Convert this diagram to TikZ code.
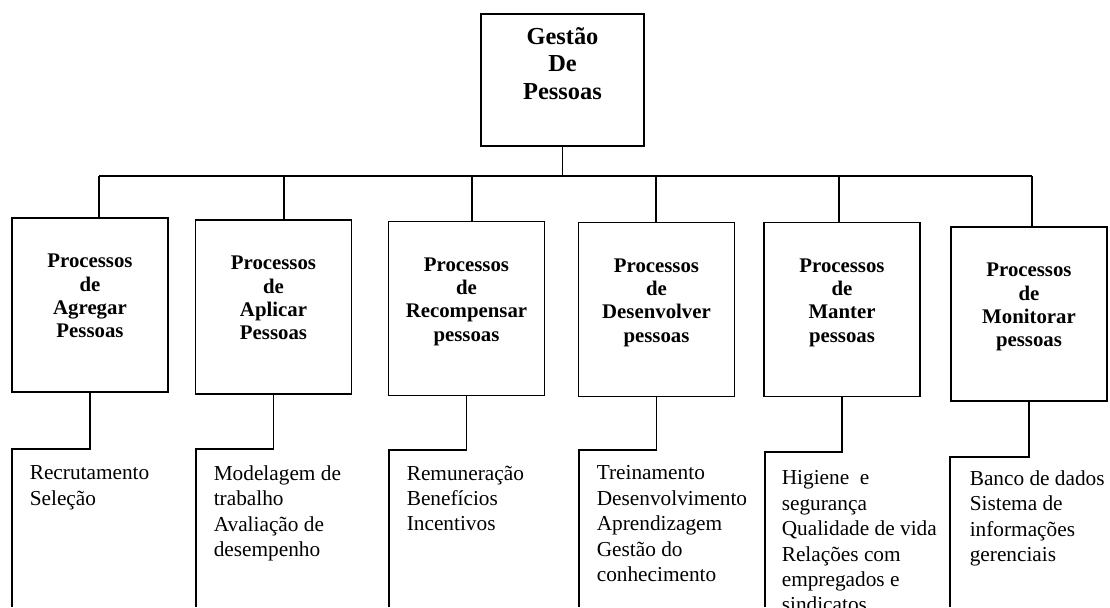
\documentclass[tikz,border=0pt]{standalone}
\usepackage{fontspec}
\setmainfont{Liberation Serif}
\usetikzlibrary{positioning}
\usetikzlibrary{calc}

\begin{document}
\begin{tikzpicture}
  [
    x=0.5pt, y=-0.5pt,
    line width=0.8pt,
    topbox/.style={
       draw=black,
       minimum width=81.5pt,
       minimum height=66pt,
       inner sep=0pt
    },
    procbox/.style={
       draw=black,
       minimum width=78pt,
       minimum height=87pt,
       inner sep=0pt
    },
    head/.style={
       font=\fontsize{10.4}{11.7}\selectfont\bfseries,
       align=center,
       inner sep=0pt,
       anchor=north
    },
    items/.style={
       font=\fontsize{10.65}{12.7}\selectfont,
       align=left,
       inner sep=0pt,
       anchor=north west
    },
    tie/.style={
       draw=black
    }
  ]
  \useasboundingbox (0,0) rectangle (1110,607);
  \clip (0,0) rectangle (1110,607);

  % topo
  \node (gdp)  at (562.5,80) [topbox] {};
  \node (gdpT) at ($(gdp.north)+(0,13)$) [head, font=\fontsize{12.2}{13.75}\selectfont\bfseries]
        {Gestão\\De\\Pessoas};

  % processos
  \node (agregar)     at (  90,305.0) [procbox] {};
  \node (aplicar)     at (273.5,307.0) [procbox] {};
  \node (recompensar) at (466.5,308.5) [procbox] {};
  \node (desenvolver) at (656.5,309.5) [procbox] {};
  \node (manter)      at ( 842,309.5) [procbox] {};
  \node (monitorar)   at (1029,314.0) [procbox] {};

  \node (agregarT)     at ($(agregar.north)+(0,36)$)     [head] {Processos\\de\\Agregar\\Pessoas};
  \node (aplicarT)     at ($(aplicar.north)+(0,36)$)     [head] {Processos\\de\\Aplicar\\Pessoas};
  \node (recompensarT) at ($(recompensar.north)+(0,36)$) [head] {Processos\\de\\Recompensar\\pessoas};
  \node (desenvolverT) at ($(desenvolver.north)+(0,36)$) [head] {Processos\\de\\Desenvolver\\pessoas};
  \node (manterT)      at ($(manter.north)+(0,36)$)      [head] {Processos\\de\\Manter\\pessoas};
  \node (monitorarT)   at ($(monitorar.north)+(0,36)$)   [head] {Processos\\de\\Monitorar\\pessoas};

  % barramento
  \coordinate (bAgregar)     at (  99,176);
  \coordinate (bAplicar)     at ( 284,176);
  \coordinate (bRecompensar) at ( 472,176);
  \coordinate (bDesenvolver) at ( 656,176);
  \coordinate (bManter)      at ( 839,176);
  \coordinate (bMonitorar)   at (1032,176);

  \draw [tie] (gdp.south) -- (gdp.south |- bAgregar);
  \draw [tie] (bAgregar) -- (bMonitorar);
  \draw [tie] (bAgregar)     -- (bAgregar |- agregar.north);
  \draw [tie] (bAplicar)     -- (bAplicar |- aplicar.north);
  \draw [tie] (bRecompensar) -- (bRecompensar |- recompensar.north);
  \draw [tie] (bDesenvolver) -- (bDesenvolver |- desenvolver.north);
  \draw [tie] (bManter)      -- (bManter |- manter.north);
  \draw [tie] (bMonitorar)   -- (bMonitorar |- monitorar.north);

  % atividades
  \coordinate (kAgregar)     at (  12,449);
  \coordinate (kAplicar)     at ( 196,449);
  \coordinate (kRecompensar) at ( 389,450);
  \coordinate (kDesenvolver) at ( 579,450);
  \coordinate (kManter)      at ( 765,452);
  \coordinate (kMonitorar)   at ( 950,457);

  \draw [tie] (agregar.south)     |- (kAgregar)     -- (kAgregar |- 0,607);
  \draw [tie] (aplicar.south)     |- (kAplicar)     -- (kAplicar |- 0,607);
  \draw [tie] (recompensar.south) |- (kRecompensar) -- (kRecompensar |- 0,607);
  \draw [tie] (desenvolver.south) |- (kDesenvolver) -- (kDesenvolver |- 0,607);
  \draw [tie] (manter.south)      |- (kManter)      -- (kManter |- 0,607);
  \draw [tie] (monitorar.south)   |- (kMonitorar)   -- (kMonitorar |- 0,607);

  \node (agregarL)     at ($(kAgregar)+(17,16)$)     [items] {Recrutamento\\Seleção};
  \node (aplicarL)     at ($(kAplicar)+(17,16)$)     [items] {Modelagem de\\trabalho\\Avaliação de\\desempenho};
  \node (recompensarL) at ($(kRecompensar)+(17,15)$) [items] {Remuneração\\Benefícios\\Incentivos};
  \node (desenvolverL) at ($(kDesenvolver)+(17,15)$) [items] {Treinamento\\Desenvolvimento\\Aprendizagem\\Gestão do\\conhecimento};
  \node (manterL)      at ($(kManter)+(16,18)$)      [items] {Higiene~ e\\segurança\\Qualidade de vida\\Relações com\\empregados e\\sindicatos};
  \node (monitorarL)   at ($(kMonitorar)+(19,13)$)   [items] {Banco de dados\\Sistema de\\informações\\gerenciais};
\end{tikzpicture}
\end{document}
